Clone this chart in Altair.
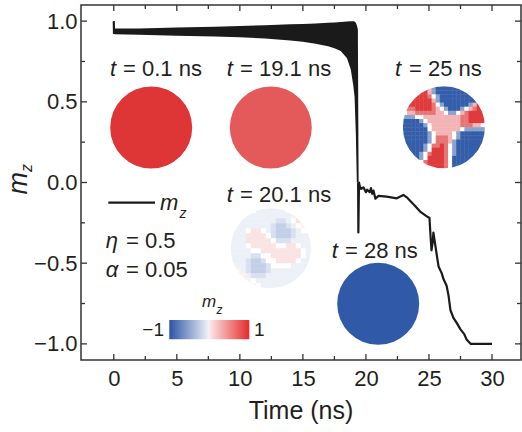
import math
import altair as alt
import pandas as pd

# ---------------- data ----------------
# oscillating envelope of m_z before switching (upper / lower edge of the black band)
band_t  = [0.05, 2, 5, 8, 10, 12, 14, 15, 16, 17, 17.5, 18, 18.5, 18.8, 19.0, 19.1, 19.2, 19.28, 19.36, 19.42]
band_hi = [0.955, 0.955, 0.96, 0.965, 0.97, 0.975, 0.98, 0.983, 0.986, 0.99, 0.992, 0.995, 0.998, 1.0, 1.0, 0.997, 0.99, 0.975, 0.95, 0.0]
band_lo = [0.918, 0.915, 0.91, 0.905, 0.9, 0.893, 0.88, 0.872, 0.86, 0.845, 0.832, 0.815, 0.77, 0.7, 0.6, 0.53, 0.3, 0.0, 0.0, 0.0]

# initial spike
start_t = [0.0, 0.02]
start_m = [1.0, 0.92]

# m_z after switching
line_t = [19.38, 19.40, 19.45, 19.5, 19.6, 19.8, 20.0, 20.1, 20.3, 20.4, 20.5, 20.6, 20.75, 21.0, 21.65,
          22.45, 22.97, 23.24, 23.9, 24.3, 24.83, 25.04, 25.1, 25.2, 25.3, 25.35, 25.45, 25.6, 25.76,
          26.0, 26.16, 26.4, 26.55, 26.7, 26.95, 27.2, 27.5, 27.8, 28.0, 28.3, 30.0]
line_m = [0.0, -0.31, 0.0, -0.02, -0.04, -0.03, -0.06, -0.045, -0.06, -0.035, -0.07, -0.05, -0.1, -0.083,
          -0.088, -0.098, -0.077, -0.092, -0.145, -0.18, -0.21, -0.22, -0.3, -0.42, -0.37, -0.31, -0.36,
          -0.44, -0.52, -0.56, -0.6, -0.64, -0.7, -0.79, -0.84, -0.87, -0.91, -0.94, -0.975, -1.0, -1.0]

# snapshot m_z values (uniform states)
snap_01 = 0.95
snap_191 = 0.78
snap_28 = -0.97

# snapshot maps, character-coded m_z
CODE = {'B': -0.95, 'b': -0.55, 'N': -0.28, 'M': -0.18, 'L': -0.09, 'w': 0.0,
        'q': 0.06, 'k': 0.13, 'p': 0.35, 'r': 0.65, 'R': 0.92}
map_25 = [
    "RRRRRRpbBBBBBBBBBBBB",
    "RRRRRRpbBBBBBBBBBBBB",
    "RRRRRRrwbBBBBBBBBBBB",
    "RRRRRRRpbBBBBBBBBBbw",
    "RRRRRRRrwbBBBBBBbpRR",
    "rrrRRRRrpwbBBBbwprRR",
    "wpprrrrrppwbbwprRRRR",
    "bbbwwppppppppprrRRRR",
    "BBBBbwpppppppprrRRRR",
    "BBBBBbwppppppprrrppw",
    "BBBBBBwpppppppwbbbbb",
    "BBBBBBbwppppwbBBBBBB",
    "BBBBBBbwrrrpwbBBBBBB",
    "BBBBBBbwrrrpbBBBBBBB",
    "BBBBBbwrrRrwbBBBBBBB",
    "BBBBBbwRRRrwbBBBBBBB",
    "BBBBbwrRRRrwbBBBBBBB",
    "BBBBbwRRRRrwBBBBBBBB",
    "BBBbwrRRRRrwBBBBBBBB",
    "BBBbwRRRRRrwBBBBBBBB",
]
map_201 = [
    "wwwwwLLLLLLqqkqq",
    "wwwLLLLLLLLLqkkq",
    "wLLLLLLLLMMLwkkq",
    "LLLLLLLLMNNMLwqq",
    "LLLwkkwLMNNNMLww",
    "LLLkkkkwMNNNMLLL",
    "LLLkkkkkwMMMLLLL",
    "LLLwkkkkkwwkkwLL",
    "LLLLwwkkkkkkkkwL",
    "LLLLMMwwkkkkkkwL",
    "LLLMNNMwwkkkkwLL",
    "LLLMNNNMwwwwLLLL",
    "LqLMNNNMLLLLLLLL",
    "qkqLMMMLLLLLLLLL",
    "qkkqwLLLLLLLLLww",
    "qqkkqwLLLLLLwwww",
]

x_major = [0, 5, 10, 15, 20, 25, 30]
x_minor = [2.5, 7.5, 12.5, 17.5, 22.5, 27.5]
y_major = [-1.0, -0.5, 0.0, 0.5, 1.0]
y_minor = [-0.75, -0.25, 0.25, 0.75]

# ---------------- layout ----------------
W, H = 440, 355
OX, OY = 81, 5
XMIN, XMAX = -2.6, 32.3
YMIN, YMAX = -1.1, 1.1
FONT = "Liberation Sans"
INK = "#231f20"
BLUE, RED = "#2a55a5", "#dc2a2b"

def t_of(px):
    return XMIN + (px - OX) * (XMAX - XMIN) / W

def m_of(py):
    return YMAX - (py - OY) * (YMAX - YMIN) / H

xs = alt.Scale(domain=[XMIN, XMAX], nice=False, zero=False)
ys = alt.Scale(domain=[YMIN, YMAX], nice=False, zero=False)
xax = alt.Axis(values=x_major, format="d", ticks=False, domain=False, grid=False, title=None,
               labelFontSize=22, labelPadding=8, labelFont=FONT, labelColor=INK)
yax = alt.Axis(values=y_major, format=".1f", ticks=False, domain=False, grid=False, title=None,
               labelFontSize=22, labelPadding=4, labelFont=FONT, labelColor=INK)
X = lambda f="t": alt.X(f"{f}:Q", scale=xs, axis=xax)
Y = lambda f="m": alt.Y(f"{f}:Q", scale=ys, axis=yax)
cscale = alt.Scale(domain=[-1, 0, 1], range=[BLUE, "#ffffff", RED], interpolate="rgb")
C = alt.Color("mz:Q", scale=cscale, legend=None)

layers = []

# band
band_df = pd.DataFrame({"t": band_t, "m": band_hi, "m2": band_lo})
layers.append(alt.Chart(band_df).mark_area(color="#1a1a1a", opacity=1, interpolate="linear")
              .encode(x=X(), y=Y(), y2=alt.Y2("m2:Q")))

# uniform snapshots (symbol size = area of bounding square)
R0 = 41
solid_df = pd.DataFrame({
    "t": [t_of(151.2), t_of(270.8), t_of(378.2)],
    "m": [m_of(127.5), m_of(127.5), m_of(303.8)],
    "mz": [snap_01, snap_191, snap_28],
})
layers.append(alt.Chart(solid_df).mark_circle(size=(2 * R0) ** 2, opacity=1, strokeWidth=0)
              .encode(x=X(), y=Y(), color=C))

def cells(rows, cx, cy, diam):
    n = len(rows)
    h = diam / n
    r = diam / 2
    out = []
    for j, row in enumerate(rows):
        for i, ch in enumerate(row):
            x0 = cx - r + i * h
            y0 = cy - r + j * h
            if math.hypot(x0 + h / 2 - cx, y0 + h / 2 - cy) > r + 0.75 * h:
                continue
            out.append({"t": t_of(x0), "t2": t_of(x0 + h + 0.4),
                        "m": m_of(y0), "m2": m_of(y0 + h + 0.4), "mz": CODE[ch]})
    return out

cell_df = pd.DataFrame(cells(map_25, 443.9, 127.2, 82) + cells(map_201, 270.8, 248.3, 80))
layers.append(alt.Chart(cell_df).mark_rect(strokeWidth=0)
              .encode(x=X(), x2=alt.X2("t2:Q"), y=Y(), y2=alt.Y2("m2:Q"), color=C))

# white rings to give the maps a round edge
ring_df = pd.DataFrame({"t": [t_of(443.9), t_of(270.8)], "m": [m_of(127.2), m_of(248.3)],
                        "r": [41 + 4.5, 40 + 4.5]})
for k in range(2):
    rr = ring_df["r"][k]
    layers.append(alt.Chart(ring_df.iloc[[k]]).mark_point(shape="circle", filled=False, color="white",
                  opacity=1, strokeWidth=9, size=(2 * rr) ** 2)
                  .encode(x=X(), y=Y()))

# curve
layers.append(alt.Chart(pd.DataFrame({"t": start_t, "m": start_m}))
              .mark_line(color="#1a1a1a", strokeWidth=2.2).encode(x=X(), y=Y()))
layers.append(alt.Chart(pd.DataFrame({"t": line_t, "m": line_m}))
              .mark_line(color="#1a1a1a", strokeWidth=2.2, strokeJoin="round").encode(x=X(), y=Y()))

# inward ticks on all four sides
TK = "#333333"
for vals, ln in [(x_major, 6), (x_minor, 4)]:
    d = pd.DataFrame({"t": vals})
    layers.append(alt.Chart(d).mark_rule(color=TK, strokeWidth=1.3)
                  .encode(x=X(), y=alt.value(H), y2=alt.value(H - ln)))
    layers.append(alt.Chart(d).mark_rule(color=TK, strokeWidth=1.3)
                  .encode(x=X(), y=alt.value(0), y2=alt.value(ln)))
for vals, ln in [(y_major, 6), (y_minor, 4)]:
    d = pd.DataFrame({"m": vals})
    layers.append(alt.Chart(d).mark_rule(color=TK, strokeWidth=1.3)
                  .encode(y=Y(), x=alt.value(0), x2=alt.value(ln)))
    layers.append(alt.Chart(d).mark_rule(color=TK, strokeWidth=1.3)
                  .encode(y=Y(), x=alt.value(W), x2=alt.value(W - ln)))

one = pd.DataFrame({"a": [0]})

# legend line
layers.append(alt.Chart(one).mark_rule(color="#1a1a1a", strokeWidth=2.2)
              .encode(x=alt.value(108.3 - OX), x2=alt.value(155 - OX), y=alt.value(202.7 - OY)))

# colour bar
grad = alt.Gradient(gradient="linear", x1=0, x2=1, y1=0, y2=0, stops=[
    alt.GradientStop(color=BLUE, offset=0),
    alt.GradientStop(color="#f2f3f9", offset=0.495),
    alt.GradientStop(color="#fde6e6", offset=0.505),
    alt.GradientStop(color="#e52a2b", offset=1),
])
layers.append(alt.Chart(one).mark_rect(color=grad)
              .encode(x=alt.value(169.3 - OX), x2=alt.value(249.3 - OX),
                      y=alt.value(320 - OY), y2=alt.value(339.3 - OY)))

def txt(s, x, y, size=22, style="normal", align="left", angle=0):
    return (alt.Chart(one).mark_text(text=s, fontSize=size, fontStyle=style, align=align,
                                     baseline="alphabetic", angle=angle, font=FONT, color=INK)
            .encode(x=alt.value(x - OX), y=alt.value(y - OY)))

# snapshot labels
for tx, ex, by, rest in [(110, 123, 76, "= 0.1 ns"), (226.7, 240, 76, "= 19.1 ns"),
                         (395, 409, 76, "= 25 ns"), (226.7, 240, 201.7, "= 20.1 ns"),
                         (331.7, 345, 258.3, "= 28 ns")]:
    layers.append(txt("t", tx, by, style="italic"))
    layers.append(txt(rest, ex, by))

# parameters
layers.append(txt("η", 105.7, 248.3, style="italic"))
layers.append(txt("= 0.5", 126, 248.3))
layers.append(txt("α", 105.7, 276.7, style="italic"))
layers.append(txt("= 0.05", 126, 276.7))

# legend label
layers.append(txt("m", 160, 210, size=22, style="italic"))
layers.append(txt("z", 179.5, 217.5, size=14, style="italic"))

# colour bar labels
layers.append(txt("−1", 164, 335.5, size=19, align="right"))
layers.append(txt("1", 254, 335.5, size=19))
layers.append(txt("m", 202, 306.7, size=17, style="italic"))
layers.append(txt("z", 216.5, 314, size=12, style="italic"))

# axis titles
layers.append(txt("Time (ns)", OX + W / 2, 419.3, size=25, align="center"))
layers.append(txt("m", 26.7, 183.3, size=27, style="italic", align="center", angle=270))
layers.append(txt("z", 31.5, 168, size=16, style="italic", align="center", angle=270))

chart = (alt.layer(*layers)
         .properties(width=W, height=H, autosize=alt.AutoSizeParams(type="none"),
                     padding={"left": OX, "top": OY, "right": 522 - OX - W, "bottom": 432 - OY - H})
         .configure_view(stroke="#333333", strokeWidth=1.5))

chart.save("out.html", embed_options={"renderer": "svg", "actions": False})
